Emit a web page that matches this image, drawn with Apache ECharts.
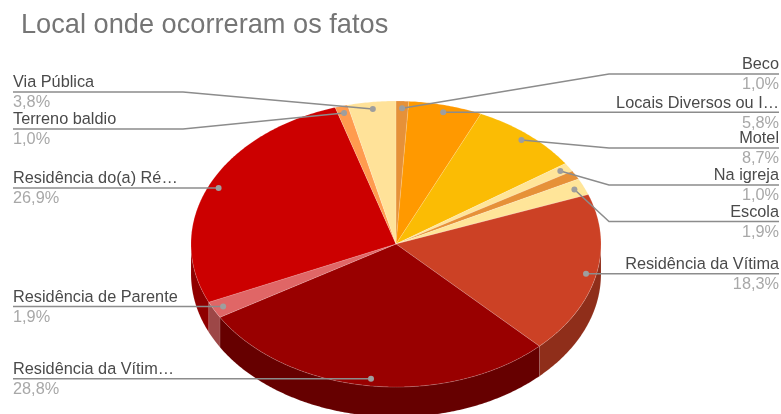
<!DOCTYPE html>
<html>
<head>
<meta charset="utf-8">
<style>html,body{margin:0;padding:0;background:#fff}#chart{width:781px;height:414px}</style>
<script src="https://cdn.jsdelivr.net/npm/echarts@6/dist/echarts.min.js"></script>
</head>
<body>
<div id="chart"></div>
<script>
// Slices run clockwise from twelve o'clock.
const categories = ['Beco', 'Locais Diversos ou I…', 'Motel', 'Na igreja', '', 'Escola', 'Residência da Vítima', 'Residência da Vítim…', 'Residência de Parente', 'Residência do(a) Ré…', 'Terreno baldio', 'Via Pública'];
const values = [1.0, 5.8, 8.7, 1.0, 1.0, 1.9, 18.3, 28.8, 1.9, 26.9, 1.0, 3.8];
const valueLabels = ['1,0%', '5,8%', '8,7%', '1,0%', '', '1,9%', '18,3%', '28,8%', '1,9%', '26,9%', '1,0%', '3,8%'];
const topColors = ['#e69138', '#ff9900', '#fbbc04', '#ffe599', '#e69138', '#ffe599', '#cc4125', '#990000', '#e06666', '#cc0000', '#ff9b4f', '#ffe299'];
const sideColors = ['#a1652a', '#b36b00', '#b08403', '#b3a06b', '#a1652a', '#b3a06b', '#8f2e1a', '#660000', '#9d4747', '#8f0000', '#b36d37', '#b39d6b'];
// Height of each label's rail; null means the rail stays level with its anchor dot.
const labelRails = [74, null, 148, 185, null, 221.5, null, null, null, null, 129, 92];

const pie = { cx: 396, cy: 244, rx: 205, ry: 143, depth: 30, anchor: 0.95 };
const railLeft = 13, railRight = 779, elbowLeft = 183, elbowRight = 609;
const labelFont = '16.3px "Liberation Sans", Arial, sans-serif';

const total = values.reduce((a, b) => a + b, 0);
const starts = [];
values.reduce((sum, v, i) => { starts[i] = sum; return sum + v; }, 0);
const turn = v => v / total * 2 * Math.PI;

function rimPoint(angle, scale, drop) {
  return [pie.cx + pie.rx * scale * Math.sin(angle), pie.cy - pie.ry * scale * Math.cos(angle) + drop];
}
function arcPoints(a0, a1, drop) {
  const steps = Math.max(2, Math.ceil((a1 - a0) / 0.01));
  const pts = [];
  for (let k = 0; k <= steps; k++) pts.push(rimPoint(a0 + (a1 - a0) * k / steps, 1, drop));
  return pts;
}

function renderTop(params, api) {
  const i = api.value(0);
  const a0 = turn(starts[i]), a1 = turn(starts[i] + values[i]);
  return {
    type: 'polygon',
    shape: { points: [[pie.cx, pie.cy]].concat(arcPoints(a0, a1, 0)) },
    style: { fill: topColors[i], stroke: 'rgba(255,255,255,0.3)', lineWidth: 0.5 }
  };
}

function renderSide(params, api) {
  const i = api.value(0);
  const a0 = Math.max(turn(starts[i]), Math.PI / 2);
  const a1 = Math.min(turn(starts[i] + values[i]), Math.PI * 1.5);
  if (a1 <= a0) return null;
  return {
    type: 'polygon',
    shape: { points: arcPoints(a0, a1, 0).concat(arcPoints(a0, a1, pie.depth).reverse()) },
    style: { fill: sideColors[i], stroke: 'rgba(255,255,255,0.2)', lineWidth: 0.5 }
  };
}

function renderLabel(params, api) {
  const i = api.value(0);
  if (!categories[i]) return null;
  const mid = turn(starts[i] + values[i] / 2);
  const dot = rimPoint(mid, pie.anchor, 0);
  const onLeft = mid > Math.PI;
  const rail = labelRails[i] === null ? dot[1] : labelRails[i];
  const edge = onLeft ? railLeft : railRight;
  const points = labelRails[i] === null
    ? [[edge, rail], dot]
    : [[edge, rail], [onLeft ? elbowLeft : elbowRight, rail], dot];
  const align = onLeft ? 'left' : 'right';
  return {
    type: 'group',
    children: [
      { type: 'polyline', shape: { points }, style: { fill: 'none', stroke: '#8c8c8c', lineWidth: 1.5 } },
      { type: 'circle', shape: { cx: dot[0], cy: dot[1], r: 3 }, style: { fill: '#9e9e9e' } },
      { type: 'text', style: { text: categories[i], x: edge, y: rail - 9, align, verticalAlign: 'middle', fill: '#4a4a4a', font: labelFont } },
      { type: 'text', style: { text: valueLabels[i], x: edge, y: rail + 11, align, verticalAlign: 'middle', fill: '#a8a8a8', font: labelFont } }
    ]
  };
}

const sliceIndex = values.map((_, i) => [i]);
const chart = echarts.init(document.getElementById('chart'), null, { renderer: 'canvas' });
chart.setOption({
  animation: false,
  title: {
    text: 'Local onde ocorreram os fatos',
    left: 16, top: 7,
    textStyle: { color: '#757575', fontSize: 27.2, fontWeight: 'normal', fontFamily: '"Liberation Sans", Arial, sans-serif' }
  },
  series: [
    { type: 'custom', coordinateSystem: 'none', silent: true, clip: false, z: 1, data: sliceIndex, renderItem: renderSide },
    { type: 'custom', coordinateSystem: 'none', silent: true, clip: false, z: 2, data: sliceIndex, renderItem: renderTop },
    { type: 'custom', coordinateSystem: 'none', silent: true, clip: false, z: 3, data: sliceIndex, renderItem: renderLabel }
  ]
});
</script>
</body>
</html>
